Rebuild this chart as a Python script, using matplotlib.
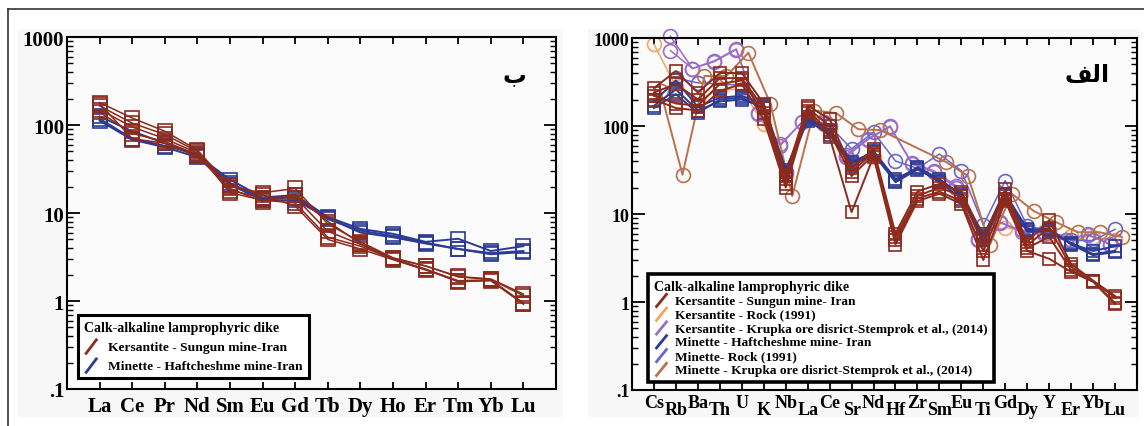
import numpy as np
import matplotlib
matplotlib.use("Agg")
import matplotlib.pyplot as plt
from matplotlib.lines import Line2D
from matplotlib.patches import Rectangle
from matplotlib.legend_handler import HandlerBase
from matplotlib.ticker import FixedLocator, FixedFormatter, LogLocator, NullFormatter

# ---- data ----
nan = np.nan
ree = ["La", "Ce", "Pr", "Nd", "Sm", "Eu", "Gd", "Tb", "Dy", "Ho", "Er", "Tm", "Yb", "Lu"]
ree_kers = [
    [180, 120, 85, 52, 20, 17, 19, 7.5, 4.7, 3.1, 2.5, 1.9, 1.78, 1.2],
    [165, 105, 78, 50, 18, 15, 15, 6.2, 4.4, 3.0, 2.3, 1.65, 1.72, 0.92],
    [150, 95, 70, 48, 17, 14, 13, 5.3, 4.2, 3.0, 2.3, 1.7, 1.74, 0.95],
    [140, 80, 65, 46, 21, 16, 12, 5.0, 3.9, 2.95, 2.25, 1.68, 1.7, 0.93],
    [175, 70, 62, 44, 19, 13.5, 16, 8.0, 4.5, 3.05, 2.5, 1.88, 1.76, 1.15],
]
ree_min = [
    [125, 85, 62, 45, 24, 15, 16, 9.0, 6.6, 5.8, 4.7, 5.1, 3.7, 4.2],
    [118, 70, 58, 47, 22, 14.5, 15, 8.5, 6.3, 5.5, 4.6, 3.9, 3.4, 3.6],
    [112, 68, 56, 43, 21, 14, 14, 8.8, 6.0, 5.3, 4.5, 3.9, 3.5, 3.7],
]

spd = ["Cs", "Rb", "Ba", "Th", "U", "K", "Nb", "La", "Ce", "Sr", "Nd",
       "Hf", "Zr", "Sm", "Eu", "Ti", "Gd", "Dy", "Y", "Er", "Yb", "Lu"]
spd_kers_sungun = [
    [270, 420, 240, 400, 400, 180, 28, 170, 120, 33, 55, 6.0, 18, 22, 18, 5.5, 19, 4.8, 8.5, 2.7, 1.75, 1.17],
    [240, 300, 200, 350, 350, 160, 25, 160, 100, 30, 50, 5.5, 16, 20, 16, 4.5, 17, 4.4, 7.0, 2.5, 1.73, 1.12],
    [220, 180, 170, 300, 330, 140, 22, 150, 85, 27, 47, 5.0, 15, 18, 14, 3.8, 15, 4.1, 5.5, 2.3, 1.72, 0.97],
    [200, 160, 150, 250, 300, 120, 20, 140, 75, 10.5, 45, 4.5, 14, 17, 13, 3.0, 14, 3.8, 3.1, 2.2, 1.7, 0.95],
]
spd_min_haft = [
    [190, 330, 165, 210, 220, 175, 32, 125, 90, 39, 50, 24, 34, 25, 16, 5.6, 17, 6.8, 6.5, 4.6, 3.8, 4.3],
    [170, 260, 150, 190, 200, 165, 30, 115, 80, 35, 48, 23, 32, 24, 17, 5.0, 16, 6.5, 6.8, 4.5, 3.4, 3.7],
    [160, 230, 140, 200, 210, 160, 28, 120, 85, 37, 52, 25, 33, 23, 15, 6.0, 15, 6.3, 6.3, 4.7, 3.5, 3.8],
]
spd_kers_rock = [850, 280, 200, 260, 260, 105, 28, 130, 90, 40, 45, 25, 33, 25, 17, 6.0, 7.0, 6.5, 6.0, 5.6, 5.5, 5.0]
spd_kers_krupka = [
    [nan, 1050, 450, 550, 750, 137, 62, 110, 110, 45, 70, 100, 37, 30, 20, 5.0, 8.1, 6.5, 6.0, 5.0, 5.9, 4.5],
    [nan, 720, 450, 540, 740, 140, 60, 112, 105, 47, 72, 98, 38, 31, 21, 5.2, 8.0, 6.3, 6.2, 5.1, 5.8, 4.6],
]
spd_min_rock = [nan, 350, 310, 300, 290, 170, 30, 120, 100, 55, 85, 40, 33, 48, 31, 7.5, 24, 7.3, 6.5, 5.0, 5.0, 6.7]
spd_min_krupka = [250, 28, 370, 370, 680, 180, 16, 150, 140, 92, 90, nan, nan, 39, 27, 4.5, 17, 10.8, 8.1, 6.2, 6.2, 5.5]

RED = "#8c2a1c"
BLUE = "#2b3a94"
ORANGE = "#f5a560"
PURPLE = "#9b6cc8"
SLATE = "#6a66cc"
BROWN = "#b9714e"

yt = [0.1, 1, 10, 100, 1000]
ylab = [".1", "1", "10", "100", "1000"]

plt.rcParams["font.family"] = ["Liberation Serif", "DejaVu Serif"]
plt.rcParams["font.weight"] = "bold"


class DiagHandler(HandlerBase):
    # legend handle drawn as a short slanted stroke
    def create_artists(self, legend, orig, xd, yd, w, h, fs, trans):
        ln = Line2D([-xd + 0.1 * w, -xd + 0.9 * w], [-yd - 0.25 * h, -yd + 1.05 * h],
                    color=orig.get_color(), lw=2.0, solid_capstyle="butt")
        ln.set_transform(trans)
        return [ln]


def series(ax, cats, vals, color, marker, ms, off=0.0, lw=1.1):
    x = np.arange(len(cats)) + off
    v = np.array(vals, dtype=float)
    m = ~np.isnan(v)
    ax.plot(x[m], v[m], color=color, lw=lw, marker=marker, ms=ms, mfc="none",
            mec=color, mew=1.2, clip_on=False)


def style(ax, cats, fsx, fsy, padx, stagger):
    n = len(cats)
    ax.set_facecolor("#fbfbfb")
    ax.set_yscale("log")
    ax.set_ylim(0.1, 1000)
    ax.set_xlim(-1, n)
    ax.yaxis.set_major_locator(FixedLocator(yt))
    ax.yaxis.set_major_formatter(FixedFormatter(ylab))
    ax.yaxis.set_minor_locator(LogLocator(base=10, subs=np.arange(2, 10)))
    ax.yaxis.set_minor_formatter(NullFormatter())
    ax.set_xticks(np.arange(n))
    ax.set_xticklabels(cats)
    ax.tick_params(axis="y", which="major", direction="in", length=9, width=1.3,
                   right=True, labelsize=fsy, pad=2)
    ax.tick_params(axis="y", which="minor", direction="in", length=4.5, width=1.0, right=True)
    ax.tick_params(axis="x", direction="in", length=5, width=1.3, top=True,
                   labelsize=fsx, pad=padx)
    for s in ax.spines.values():
        s.set_linewidth(1.5)
        s.set_zorder(5)
    if stagger:
        for i, t in enumerate(ax.xaxis.get_major_ticks()):
            if i % 2:
                t.set_pad(padx + 5)


W, H = 1144, 427
fig = plt.figure(figsize=(W / 100, H / 100), dpi=100)

# panel backgrounds + outer frame
fig.patches.append(Rectangle((18 / W, 1 - 418 / H), 545 / W, 388 / H, transform=fig.transFigure,
                             facecolor="#f7f7f7", edgecolor="none", zorder=-5))
fig.patches.append(Rectangle((588 / W, 1 - 418 / H), 551 / W, 388 / H, transform=fig.transFigure,
                             facecolor="#f7f7f7", edgecolor="none", zorder=-5))
fig.add_artist(Line2D([8 / W, 1], [1 - 10 / H, 1 - 10 / H], transform=fig.transFigure, color="#333", lw=1.2))
fig.add_artist(Line2D([8 / W, 8 / W], [0, 1 - 10 / H], transform=fig.transFigure, color="#333", lw=1.2))

ax1 = fig.add_axes([67 / W, 1 - 390 / H, 489 / W, 352 / H])
ax2 = fig.add_axes([632 / W, 1 - 391 / H, 505 / W, 352 / H])

# ---- left: REE ----
for v in ree_min:
    series(ax1, ree, v, BLUE, "s", 9.5, lw=1.4)
for v in ree_kers:
    series(ax1, ree, v, RED, "s", 9.5)
style(ax1, ree, 15, 15, 5, False)
ax1.text(0.915, 0.895, "\uFE8F", transform=ax1.transAxes, fontsize=17, fontweight="bold",
         family=["DejaVu Sans"], ha="center", va="center")
h1 = [Line2D([], [], color=RED), Line2D([], [], color=BLUE)]
leg1 = ax1.legend(h1, ["Kersantite - Sungun mine-Iran", "Minette - Haftcheshme mine-Iran"],
                  title="Calk-alkaline lamprophyric dike", loc="lower left",
                  bbox_to_anchor=(0.022, 0.031), borderaxespad=0,
                  handler_map={Line2D: DiagHandler()}, handlelength=1.1, handleheight=1.0,
                  handletextpad=0.7, prop={"size": 9.7, "weight": "bold"},
                  title_fontproperties={"size": 10, "weight": "bold"}, alignment="left",
                  fancybox=False, edgecolor="black", framealpha=1, labelspacing=0.4,
                  borderpad=0.45)
leg1.get_frame().set_linewidth(2.2)

# ---- right: spider diagram ----
series(ax2, spd, spd_kers_rock, ORANGE, "o", 10)
for v in spd_kers_krupka:
    series(ax2, spd, v, PURPLE, "o", 10, off=-0.25)
series(ax2, spd, spd_min_rock, SLATE, "o", 10)
series(ax2, spd, spd_min_krupka, BROWN, "o", 10, off=0.3, lw=1.4)
for v in spd_min_haft:
    series(ax2, spd, v, BLUE, "s", 9, lw=1.4)
for v in spd_kers_sungun:
    series(ax2, spd, v, RED, "s", 9, lw=1.4)
style(ax2, spd, 13, 13, 3, True)
ax2.text(0.901, 0.898, "\uFED2\uFEDF\uFE8D", transform=ax2.transAxes, fontsize=17,
         fontweight="bold", family=["DejaVu Sans"], ha="center", va="center")
h2 = [Line2D([], [], color=c) for c in (RED, ORANGE, PURPLE, BLUE, SLATE, BROWN)]
lab2 = ["Kersantite - Sungun mine- Iran",
        "Kersantite - Rock (1991)",
        "Kersantite - Krupka ore disrict-Stemprok et al., (2014)",
        "Minette - Haftcheshme mine- Iran",
        "Minette- Rock (1991)",
        "Minette - Krupka ore disrict-Stemprok et al., (2014)"]
leg2 = ax2.legend(h2, lab2, title="Calk-alkaline lamprophyric dike", loc="lower left",
                  bbox_to_anchor=(0.032, 0.023), borderaxespad=0,
                  handler_map={Line2D: DiagHandler()}, handlelength=1.1, handleheight=0.9,
                  handletextpad=0.5, prop={"size": 9.6, "weight": "bold"},
                  title_fontproperties={"size": 10, "weight": "bold"}, alignment="left",
                  fancybox=False, edgecolor="black", framealpha=1, labelspacing=0.05,
                  borderpad=0.45)
leg2.get_frame().set_linewidth(2.6)

fig.savefig("out.png", dpi=100)
